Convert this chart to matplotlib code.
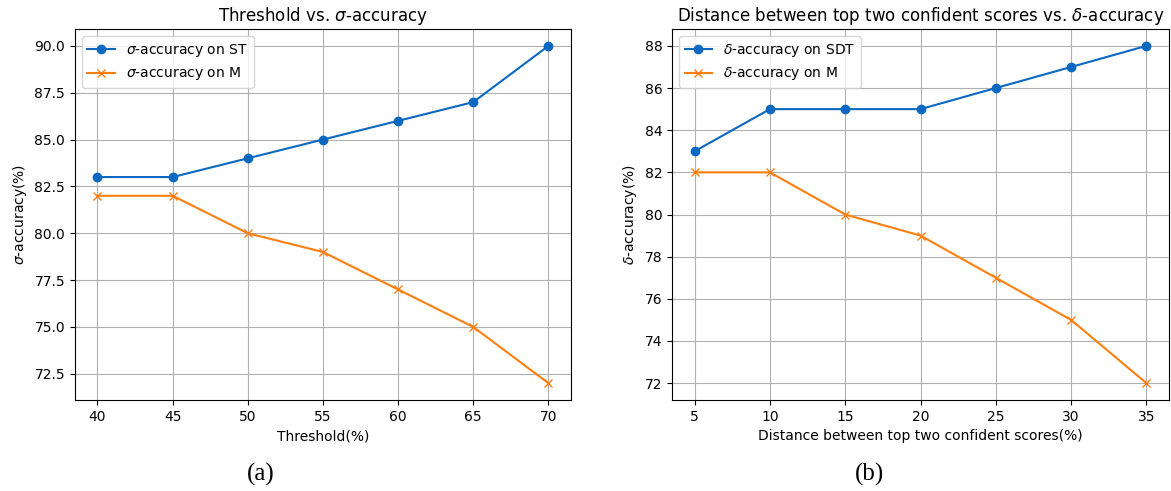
import matplotlib
matplotlib.use("Agg")
import matplotlib.pyplot as plt

thresholds = [40, 45, 50, 55, 60, 65, 70]
sigma_st = [83, 83, 84, 85, 86, 87, 90]
sigma_m = [82, 82, 80, 79, 77, 75, 72]

distances = [5, 10, 15, 20, 25, 30, 35]
delta_sdt = [83, 85, 85, 85, 86, 87, 88]
delta_m = [82, 82, 80, 79, 77, 75, 72]

BLUE = "#0a68c0"
ORANGE = "#ff7f0e"

fig = plt.figure(figsize=(11.71, 4.91), dpi=100)
ax1 = fig.add_axes([0.064, 0.1853, 0.4236, 0.7556])
ax2 = fig.add_axes([0.5739, 0.1853, 0.4244, 0.7556])

ax1.plot(thresholds, sigma_st, marker="o", color=BLUE, label=r"$\sigma$-accuracy on ST")
ax1.plot(thresholds, sigma_m, marker="x", color=ORANGE, label=r"$\sigma$-accuracy on M")
ax1.set_title(r"Threshold vs. $\sigma$-accuracy")
ax1.set_xlabel("Threshold(%)")
ax1.set_ylabel(r"$\sigma$-accuracy(%)")
ax1.set_xticks(thresholds)
ax1.grid(True)
ax1.legend(loc="upper left")

ax2.plot(distances, delta_sdt, marker="o", color=BLUE, label=r"$\delta$-accuracy on SDT")
ax2.plot(distances, delta_m, marker="x", color=ORANGE, label=r"$\delta$-accuracy on M")
ax2.set_title(r"Distance between top two confident scores vs. $\delta$-accuracy")
ax2.set_xlabel("Distance between top two confident scores(%)")
ax2.set_ylabel(r"$\delta$-accuracy(%)")
ax2.set_xticks(distances)
ax2.grid(True)
ax2.legend(loc="upper left")

fig.text(261 / 1171, 1 - 474 / 491, "(a)", family="Liberation Serif", fontsize=18, ha="center", va="center")
fig.text(870 / 1171, 1 - 474 / 491, "(b)", family="Liberation Serif", fontsize=18, ha="center", va="center")

fig.savefig("out.png", dpi=100)
